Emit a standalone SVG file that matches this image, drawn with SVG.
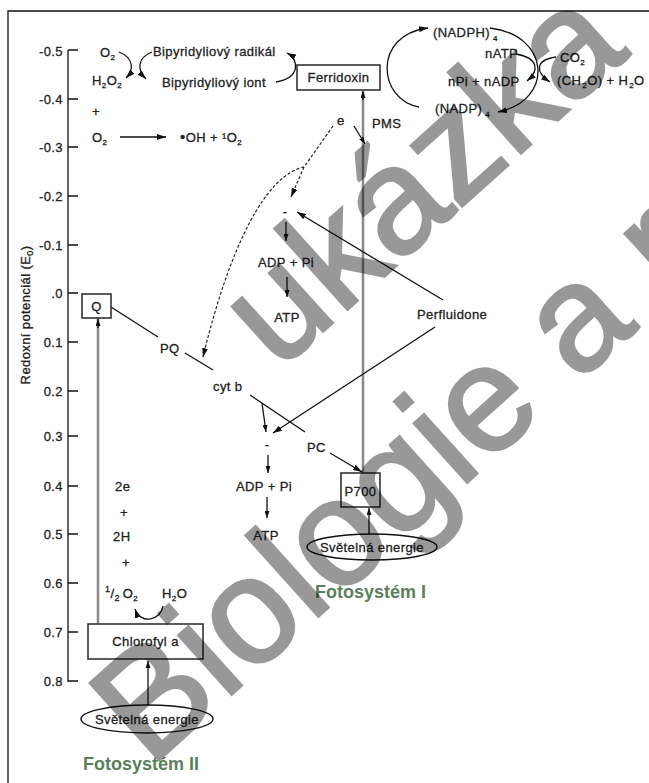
<svg xmlns="http://www.w3.org/2000/svg" width="649" height="783" viewBox="0 0 649 783">
<defs>
<style>
.t{font-family:"Liberation Sans",Arial,sans-serif;font-size:13px;fill:#222;stroke:#222;stroke-width:0.3;letter-spacing:0.4px}
.m{text-anchor:middle}
.e{text-anchor:end}
.ln{stroke:#111;stroke-width:1.3;fill:none}
.gr{stroke:#8c8c8c;stroke-width:2.6;fill:none}
.ds{stroke:#222;stroke-width:1.2;stroke-dasharray:3 2;fill:none}
.box{fill:#fff;stroke:#333;stroke-width:1.6}
.ell{fill:none;stroke:#111;stroke-width:1.4}
.green{font-family:"Liberation Sans",Arial,sans-serif;font-size:18px;font-weight:bold;fill:#5b7f5b}
.wm{font-family:"Liberation Sans",Arial,sans-serif;font-size:150px;fill:#000;stroke:#000;stroke-width:3;opacity:0.4}
</style>
<marker id="ah" markerWidth="9" markerHeight="6" refX="9" refY="3" orient="auto" markerUnits="userSpaceOnUse"><path d="M0,0 L9,3 L0,6 z" fill="#111"/></marker>
<marker id="ahs" markerWidth="7" markerHeight="5" refX="7" refY="2.5" orient="auto" markerUnits="userSpaceOnUse"><path d="M0,0 L7,2.5 L0,5 z" fill="#111"/></marker>
</defs>
<rect width="649" height="783" fill="#fff"/>
<g id="frame"><path d="M8,783 V11 H649" class="ln" stroke-width="1.5"/></g>

<g id="axis">
<path d="M68,50 V682" class="ln" stroke-width="1.5"/>
<path d="M68,50 H78 M68,99 H78 M68,147 H78 M68,196 H78 M68,245 H78 M68,293 H78 M68,342 H78 M68,391 H78 M68,436 H78 M68,486 H78 M68,534 H78 M68,583 H78 M68,632 H78 M68,681 H78" class="ln"/>
<g class="t e">
<text x="63" y="56">-0.5</text><text x="63" y="104">-0.4</text><text x="63" y="152">-0.3</text><text x="63" y="201">-0.2</text><text x="63" y="250">-0.1</text><text x="63" y="298">.0</text><text x="63" y="347">0.1</text><text x="63" y="396">0.2</text><text x="63" y="441">0.3</text><text x="63" y="491">0.4</text><text x="63" y="539">0.5</text><text x="63" y="588">0.6</text><text x="63" y="637">0.7</text><text x="63" y="686">0.8</text>
</g>
<text class="t m" transform="translate(30,315) rotate(-90)">Redoxní potenciál (E<tspan font-size="9" dy="3">0</tspan><tspan dy="-3">)</tspan></text>
</g>

<g id="connectors">
<path d="M119,52 C134,58 134,70 126,78" class="ln" marker-end="url(#ah)"/>
<path d="M152,52 C137,58 137,70 146,79" class="ln" marker-end="url(#ah)"/>
<path d="M276,82 C300,78 300,60 287,53" class="ln" marker-end="url(#ah)"/>
<path d="M120,137 H166" class="ln" marker-end="url(#ah)"/>
<path d="M419,107 C378,100 372,35 428,28" class="ln" marker-end="url(#ah)"/>
<path d="M490,28 C550,35 555,100 498,112" class="ln" marker-end="url(#ah)"/>
<path d="M516,54 C538,58 540,70 527,81" class="ln" marker-end="url(#ah)"/>
<path d="M556,57 C535,60 535,72 550,82" class="ln" marker-end="url(#ah)"/>
<path d="M363,473 V92" class="gr"/>
<path d="M363,100 V91" class="ln" marker-end="url(#ahs)"/>
<path d="M354,126 L365,144" class="ln" marker-end="url(#ahs)"/>
<path d="M333,126 L304,167" class="ds"/>
<path d="M304,167 L291,197" class="ds" marker-end="url(#ah)"/>
<path d="M304,167 C266,175 230,245 203,357" class="ds" marker-end="url(#ah)"/>
<path d="M443,300 L297,212" class="ln" marker-end="url(#ah)"/>
<path d="M435,327 L273,433" class="ln" marker-end="url(#ah)"/>
<path d="M286,222 V241" class="ln" marker-end="url(#ahs)"/>
<path d="M287,277 V297" class="ln" marker-end="url(#ahs)"/>
<path d="M111,307 L158,337" class="ln"/>
<path d="M185,353 L213,370" class="ln"/>
<path d="M250,395 L305,432" class="ln"/>
<path d="M262,403 L266,432" class="ln" marker-end="url(#ahs)"/>
<path d="M268,455 V473" class="ln" marker-end="url(#ahs)"/>
<path d="M267,497 V518" class="ln" marker-end="url(#ahs)"/>
<path d="M330,453 L362,472" class="ln" marker-end="url(#ah)"/>
<path d="M98,623 V318" class="gr"/>
<path d="M98,328 V319" class="ln" marker-end="url(#ahs)"/>
<path d="M369,534 V508" class="ln" marker-end="url(#ahs)"/>
<path d="M148,705 V661" class="ln" marker-end="url(#ahs)"/>
<path d="M163,606 C160,622 140,624 135,609" class="ln" marker-end="url(#ah)"/>
</g>

<g id="n-oxygen">
<text class="t" x="100" y="57">O<tspan font-size="8" dy="3">2</tspan></text>
<text class="t" x="92" y="85">H<tspan font-size="8" dy="3">2</tspan><tspan dy="-3">O</tspan><tspan font-size="8" dy="3">2</tspan></text>
<text class="t" x="92" y="116" font-size="8">+</text>
<text class="t" x="92" y="142">O<tspan font-size="8" dy="3">2</tspan></text>
<text class="t" x="180" y="142"><tspan font-size="15">•</tspan>OH + ¹O<tspan font-size="8" dy="3">2</tspan></text>
</g>
<g id="n-bipyridyl">
<text class="t" x="153" y="56">Bipyridyliový radikál</text>
<text class="t" x="162" y="87">Bipyridyliový iont</text>
</g>
<g id="n-ferridoxin">
<rect x="297" y="65" width="83" height="25" class="box"/>
<text class="t m" x="338.5" y="82">Ferridoxin</text>
</g>
<g id="n-nadp">
<text class="t" x="433" y="37">(NADPH)<tspan font-size="8" dx="3" dy="4">4</tspan></text>
<text class="t" x="485" y="58">nATP</text>
<text class="t" x="560" y="62">CO<tspan font-size="8" dy="3">2</tspan></text>
<text class="t" x="448" y="86">nPi + nADP</text>
<text class="t" x="557" y="85">(CH<tspan font-size="8" dx="1" dy="3">2</tspan><tspan dy="-3">O) + H</tspan><tspan font-size="8" dx="1" dy="3">2</tspan><tspan dy="-3">O</tspan></text>
<text class="t" x="435" y="113">(NADP)<tspan font-size="8" dx="3" dy="4">4</tspan></text>
</g>
<g id="n-e"><text class="t" x="337" y="125" font-size="11">e</text><text class="t" x="372" y="128">PMS</text></g>
<g id="n-atp1">
<text class="t m" x="285" y="216">-</text>
<text class="t m" x="286" y="267">ADP + Pi</text>
<text class="t m" x="287" y="322">ATP</text>
</g>
<g id="n-perfluidone"><text class="t" x="417" y="319">Perfluidone</text></g>
<g id="n-q"><rect x="82" y="294" width="29" height="24" class="box"/><text class="t m" x="96.5" y="311">Q</text></g>
<g id="n-pq"><text class="t" x="160" y="353">PQ</text></g>
<g id="n-cytb"><text class="t" x="213" y="391">cyt b</text></g>
<g id="n-pc"><text class="t" x="307" y="452">PC</text></g>
<g id="n-atp2">
<text class="t m" x="267" y="449">-</text>
<text class="t m" x="264" y="491">ADP + Pi</text>
<text class="t m" x="266" y="540">ATP</text>
</g>
<g id="n-p700"><rect x="341" y="473" width="39" height="34" class="box"/><text class="t m" x="360.5" y="496">P700</text></g>
<g id="n-light1"><ellipse cx="372" cy="547" rx="65" ry="13" class="ell"/><text class="t m" x="372" y="551.5">Světelná energie</text></g>
<g id="n-ps1"><text class="green" x="315" y="598">Fotosystém I</text></g>
<g id="n-water">
<text class="t" x="115" y="491">2e</text>
<text class="t" x="120" y="517">+</text>
<text class="t" x="113" y="541">2H</text>
<text class="t" x="122" y="567">+</text>
<text class="t" x="105" y="598"><tspan font-size="9" dy="-6">1</tspan><tspan dy="6">/</tspan><tspan font-size="9" dy="3">2</tspan><tspan dx="3" dy="-3">O</tspan><tspan font-size="8" dy="3">2</tspan></text>
<text class="t" x="162" y="598">H<tspan font-size="8" dy="3">2</tspan><tspan dy="-3">O</tspan></text>
</g>
<g id="n-chl"><rect x="88" y="624" width="115" height="35" class="box"/><text class="t m" x="145.5" y="646">Chlorofyl a</text></g>
<g id="n-light2"><ellipse cx="147" cy="719" rx="66" ry="14" class="ell"/><text class="t m" x="147" y="723.5">Světelná energie</text></g>
<g id="n-ps2"><text class="green" x="83" y="770">Fotosystém II</text></g>

<g id="watermark">
<text class="wm" transform="translate(278,372) rotate(-42)">ukázka</text>
<text class="wm" transform="translate(150,768) rotate(-42)">Biologie a r</text>
</g>
</svg>
